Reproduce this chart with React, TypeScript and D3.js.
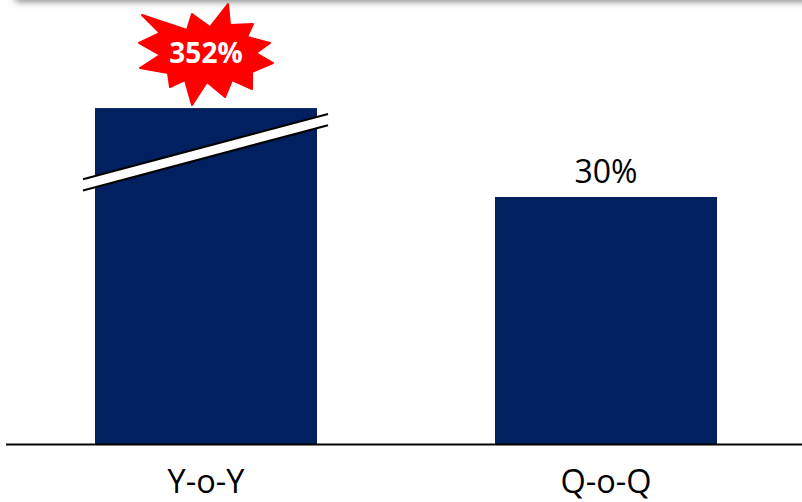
import React from "react";
import * as d3 from "d3";

const categories = ["Y-o-Y", "Q-o-Q"];
const values = [352, 30];
const valueLabels = ["352%", "30%"];
// display cap for the broken (out-of-scale) bar, in % units of the axis scale
const breakCap = 40.8;

const W = 802;
const H = 502;

// decorative burst outline: alternating tip / valley offsets from its centre
const starOutline: [number, number][] = [
  [-64, -40], [-19, -25], [-14, -41], [4, -28], [22, -51], [24, -30],
  [47, -31], [41, -18], [64, -12], [50, -2], [67, 8], [46, 17],
  [46, 34], [26, 25], [19, 42], [1, 27], [-14, 50], [-21, 25],
  [-36, 32], [-38, 18], [-66, 13], [-46, 0], [-67, -12], [-46, -22],
];

export default function App() {
  const x = d3
    .scaleBand<string>()
    .domain(categories)
    .range([8, 804])
    .paddingInner(0.445)
    .paddingOuter(0.2175);
  const y = d3.scaleLinear().domain([0, 30]).range([444, 197]);
  const bw = x.bandwidth();

  const starCx = (x("Y-o-Y") ?? 0) + bw / 2;
  const starCy = 55;
  const pts: [number, number][] = starOutline.map((p) => [starCx + p[0], starCy + p[1]]);
  const starPath = d3.line().curve(d3.curveLinearClosed)(pts) ?? "";

  return (
    <svg
      width={W}
      height={H}
      style={{ position: "absolute", left: 0, top: 0, background: "#fff" }}
      fontFamily="'Open Sans', 'Noto Sans', sans-serif"
    >
      <defs>
        <filter id="sh" x="-10%" y="-200%" width="120%" height="500%">
          <feGaussianBlur stdDeviation="3.5" />
        </filter>
      </defs>
      <rect x={14} y={-40} width={820} height={42} rx={6} fill="#8a8a8a" filter="url(#sh)" />

      {categories.map((c, i) => {
        const v = values[i];
        const broken = v > breakCap;
        const top = y(broken ? breakCap : v);
        const bx = x(c) ?? 0;
        return (
          <g key={c}>
            <rect x={bx} y={top} width={bw} height={y(0) - top} fill="#002060" />
            {broken ? null : (
              <text
                x={bx + bw / 2}
                y={top - 14.5}
                textAnchor="middle"
                fontSize={32}
                fill="#000"
              >
                {valueLabels[i]}
              </text>
            )}
            <text x={bx + bw / 2} y={492.5} textAnchor="middle" fontSize={32.5} fill="#000">
              {c}
            </text>
          </g>
        );
      })}

      {/* axis break on the out-of-scale bar */}
      {categories.map((c, i) => {
        if (values[i] <= breakCap) return null;
        const bx = x(c) ?? 0;
        const top = y(breakCap);
        const x0 = bx - 12;
        const x1 = bx + bw + 11;
        const slope = -0.2665;
        const cx = bx + bw / 2;
        const cy = top + 44;
        const yAt = (xx: number) => cy + slope * (xx - cx);
        const g = 5.6;
        const poly = [
          [x0, yAt(x0) - g],
          [x1, yAt(x1) - g],
          [x1, yAt(x1) + g],
          [x0, yAt(x0) + g],
        ];
        return (
          <g key={"brk" + c}>
            <polygon points={poly.map((p) => p.join(",")).join(" ")} fill="#fff" />
            <line x1={x0} y1={yAt(x0) - g} x2={x1} y2={yAt(x1) - g} stroke="#000" strokeWidth={2} />
            <line x1={x0} y1={yAt(x0) + g} x2={x1} y2={yAt(x1) + g} stroke="#000" strokeWidth={2} />
          </g>
        );
      })}

      <line x1={6} y1={y(0) + 0.5} x2={W} y2={y(0) + 0.5} stroke="#000" strokeWidth={2.2} />

      <path d={starPath} fill="#ff0000" stroke="#ff0000" strokeWidth={2} strokeLinejoin="round" />
      <text
        x={starCx}
        y={63}
        textAnchor="middle"
        fontSize={28}
        fontWeight="bold"
        fill="#fff"
      >
        {valueLabels[0]}
      </text>
    </svg>
  );
}
